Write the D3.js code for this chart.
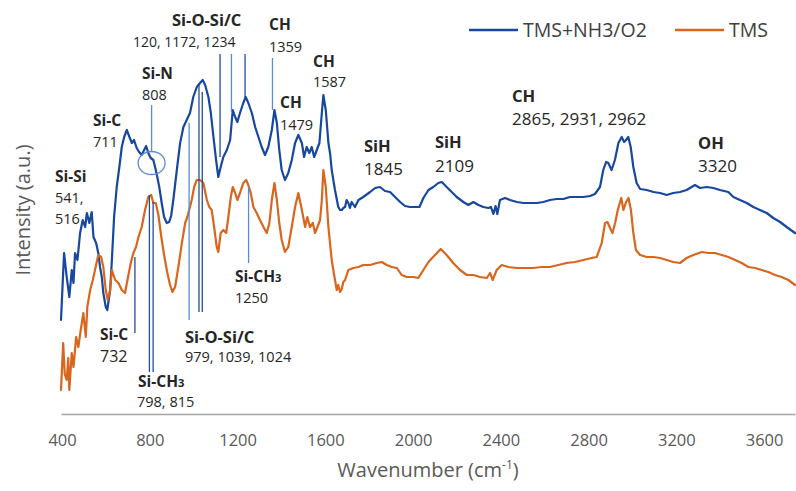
<!DOCTYPE html>
<html>
<head>
<meta charset="utf-8">
<script src="https://cdn.jsdelivr.net/npm/d3@7"></script>
<style>
  html, body { margin: 0; padding: 0; background: #ffffff; }
  svg { display: block; font-family: "Open Sans", "Noto Sans", sans-serif; }
</style>
</head>
<body>
<svg id="chart" width="796" height="491"></svg>
<script>
// FTIR spectra: wavenumber (cm-1) vs. intensity (a.u.)
const seriesNames = ["TMS+NH3/O2", "TMS"];
const xTickValues = [400, 800, 1200, 1600, 2000, 2400, 2800, 3200, 3600];

// TMS+NH3/O2 film: [wavenumber, intensity]
const treatedSpectrum = [
  [395, 23.5], [409, 40.25], [421, 34.25], [433, 29.25], [444, 36], [452, 32.75], [459, 40.25],
  [470, 38.5], [482, 45.25], [494, 48.5], [505, 46.75], [513, 50.25], [524, 47.75], [535, 50.5],
  [543, 44.25], [555, 42.75], [565, 40.25], [573, 36.75], [581, 34.25], [588, 30.25], [599, 26.75],
  [606, 26], [619, 31], [627, 38.5], [637, 49.25], [649, 56.75], [661, 61.75], [672, 66.75],
  [683, 69.25], [695, 71], [707, 69.25], [718, 67.75], [728, 68.5], [740, 66.5], [751, 65.5],
  [763, 64.75], [774, 66], [783, 67], [793, 65.25], [804, 64], [816, 63.5], [827, 61], [834, 59.25],
  [843, 56.75], [854, 52.75], [865, 49.25], [877, 47.75], [888, 48], [897, 49.5], [907, 53.5],
  [923, 61], [938, 67.75], [953, 71.75], [968, 73.5], [983, 75.25], [998, 79.25], [1014, 81.75],
  [1029, 82.75], [1041, 83.5], [1052, 82.25], [1067, 79.25], [1078, 75.25], [1090, 69.25],
  [1102, 63.5], [1112, 59.25], [1123, 61.75], [1135, 64.25], [1151, 66], [1166, 68.5], [1178, 76],
  [1189, 74.25], [1199, 73], [1211, 75.25], [1226, 77.75], [1237, 79.25], [1249, 77.75],
  [1265, 75.25], [1280, 71.75], [1295, 69.25], [1310, 66.75], [1325, 64.75], [1340, 66.75],
  [1356, 71], [1368, 76], [1379, 72.75], [1390, 66], [1401, 61], [1416, 58.5], [1431, 60.25],
  [1447, 63.5], [1462, 67.75], [1477, 69.75], [1493, 67.75], [1503, 64.25], [1515, 66.75],
  [1527, 65.25], [1538, 66.75], [1549, 64.25], [1561, 66], [1573, 67.75], [1584, 75.25],
  [1591, 79.75], [1602, 76], [1614, 67.75], [1622, 65], [1629, 61], [1644, 56], [1659, 51.75],
  [1667, 51], [1675, 51], [1682, 51.5], [1690, 51.75], [1697, 53.5], [1705, 52.75], [1712, 51.5],
  [1720, 53], [1735, 51.75], [1751, 53.5], [1773, 54.25], [1804, 55.5], [1827, 56.5], [1849, 56.75],
  [1872, 55.75], [1895, 55.5], [1918, 54.25], [1941, 53], [1963, 52], [1986, 51.75], [2009, 51.75],
  [2029, 51.75], [2047, 54], [2070, 56], [2092, 56.75], [2115, 57.75], [2131, 58], [2153, 56.75],
  [2176, 55.5], [2199, 54.25], [2229, 53], [2252, 52.25], [2275, 53], [2298, 52.25], [2320, 51.75],
  [2343, 51.5], [2355, 51.75], [2366, 50], [2376, 52], [2384, 50], [2396, 53.5], [2419, 54],
  [2442, 53.5], [2473, 53], [2503, 52.75], [2533, 52.75], [2564, 52.75], [2594, 53], [2624, 53.5],
  [2655, 53.75], [2685, 53.75], [2715, 54.25], [2746, 54.25], [2776, 54.25], [2807, 54.5],
  [2829, 55], [2852, 56.75], [2867, 61], [2880, 63], [2890, 62.75], [2905, 61], [2920, 63.5],
  [2936, 67.75], [2951, 69.25], [2962, 68], [2971, 68.5], [2981, 69.25], [2992, 66.75],
  [3004, 61.75], [3019, 57.75], [3035, 56.25], [3065, 56], [3096, 55.5], [3126, 55.25],
  [3156, 54.75], [3186, 55.25], [3217, 55.5], [3247, 56], [3285, 57.25], [3308, 56.5],
  [3339, 56.75], [3369, 56.5], [3399, 56], [3437, 55.5], [3460, 54.25], [3490, 53.5],
  [3521, 52.75], [3551, 51.75], [3581, 51], [3612, 50.25], [3642, 49], [3673, 48], [3703, 46.75],
  [3741, 45.25]
];

// TMS film: [wavenumber, intensity]
const tmsSpectrum = [
  [395, 6], [405, 17.75], [412, 10], [421, 8.5], [428, 14], [433, 6], [444, 15.25], [452, 11.75],
  [464, 19.25], [474, 16.75], [485, 21], [497, 25.25], [508, 19.25], [515, 26.75], [528, 31],
  [540, 33.5], [550, 36], [565, 39.75], [578, 39.25], [588, 36.75], [599, 31], [608, 28.5],
  [619, 31], [627, 36], [642, 33.5], [657, 32.75], [672, 31], [687, 30.25], [698, 33.5],
  [713, 37.75], [725, 40.25], [737, 41.75], [748, 44.25], [763, 46.75], [778, 51], [793, 54.25],
  [806, 54.75], [816, 52.75], [827, 52.75], [839, 49.75], [851, 44.75], [865, 39.75], [879, 35.5],
  [892, 32.25], [903, 30.5], [915, 31.75], [930, 36.75], [946, 42.75], [961, 47.75], [971, 49.25],
  [991, 53.5], [1002, 56.75], [1014, 58.5], [1029, 58.5], [1044, 57.75], [1060, 53.5],
  [1071, 51.75], [1082, 51], [1093, 46.75], [1105, 41.75], [1112, 40.5], [1123, 45.25],
  [1135, 46], [1148, 45.25], [1158, 49.25], [1169, 54.25], [1178, 56.75], [1189, 55.25],
  [1199, 53.5], [1211, 55.25], [1226, 57.75], [1239, 58.5], [1249, 57.25], [1260, 55.25],
  [1272, 51.75], [1287, 50.25], [1302, 48.5], [1318, 46.75], [1333, 45.25], [1345, 47.75],
  [1356, 53.5], [1368, 57.75], [1379, 53.5], [1390, 47.75], [1401, 43.5], [1416, 40.5],
  [1431, 41.75], [1447, 46.75], [1462, 51.75], [1477, 55.25], [1493, 51], [1508, 46.75],
  [1518, 49.25], [1530, 46.75], [1543, 47.75], [1553, 45.25], [1564, 46.75], [1576, 48.5],
  [1584, 53.5], [1591, 61], [1602, 56.75], [1614, 46.75], [1629, 38.5], [1644, 33.5], [1652, 31],
  [1659, 32.25], [1667, 30.5], [1675, 31.25], [1682, 33], [1690, 33.5], [1705, 36], [1728, 36.5],
  [1751, 36.75], [1773, 37.25], [1804, 37.25], [1834, 37.75], [1857, 38], [1880, 37.25],
  [1903, 36.75], [1926, 36.5], [1948, 34.75], [1971, 34.25], [2001, 34.25], [2024, 34], [2047, 36],
  [2070, 38], [2100, 39.75], [2126, 41.25], [2153, 39.75], [2183, 37.75], [2214, 36], [2245, 34.75],
  [2275, 34.75], [2305, 34.25], [2336, 34], [2351, 35.25], [2363, 33.5], [2381, 36], [2404, 37.25],
  [2434, 36.75], [2473, 36.5], [2510, 36.5], [2548, 36.5], [2586, 36.75], [2624, 36.75],
  [2662, 37.25], [2700, 37.75], [2738, 38], [2776, 38.5], [2814, 39], [2837, 39.25], [2860, 42.75],
  [2875, 47.75], [2886, 48], [2898, 46.5], [2909, 45.25], [2921, 47.75], [2933, 51], [2949, 54],
  [2959, 51], [2971, 53], [2982, 54], [2993, 51], [3004, 45.25], [3016, 41], [3035, 39.75],
  [3065, 39.25], [3096, 39.25], [3126, 39], [3156, 38.5], [3186, 38], [3217, 37.75], [3247, 39],
  [3277, 39.75], [3316, 40.5], [3346, 40.25], [3376, 40.25], [3407, 39.75], [3437, 39.25],
  [3468, 38.5], [3498, 37.75], [3528, 36.75], [3559, 36.5], [3589, 36], [3619, 35.5], [3650, 34.75],
  [3680, 34.25], [3711, 33.5], [3741, 32.25]
];

// Band assignments: group name and the wavenumbers written under it
const bandNames = ["Si-Si", "Si-C", "Si-N", "Si-O-Si/C", "CH", "CH", "CH", "SiH", "SiH", "CH", "OH",
                   "Si-C", "Si-CH3", "Si-O-Si/C", "Si-CH3"];
const bandValues = [["541,", "516"], ["711"], ["808"], ["120, 1172, 1234"], ["1359"], ["1479"],
                    ["1587"], ["1845"], ["2109"], ["2865, 2931, 2962"], ["3320"],
                    ["732"], ["798, 815"], ["979, 1039, 1024"], ["1250"]];

// Leader lines: wavenumber, upper and lower intensity ends
const leaderWave = [1120, 1172, 1234, 1359, 808, 732, 798, 815, 979, 1024, 1039, 1250];
const leaderTop =  [90, 90, 90, 89, 77.25, 39.25, 54.75, 53, 72.75, 82.75, 80.5, 57];
const leaderBot =  [64.25, 75.5, 78.5, 76, 65.5, 20.25, 10.5, 10.5, 23.5, 25.5, 25.5, 37.75];

const colors = ["#17479e", "#d9661c"];
const leaderDark = "#1f4e9a", leaderLight = "#5b8bd2";

const svg = d3.select("#chart");
const x = d3.scaleLinear().domain([395, 3741]).range([61, 795]);
const y = d3.scaleLinear().domain([0, 100]).range([414, 14]);

// x axis: plain grey baseline with labels only
const xAxis = svg.append("g")
  .attr("transform", `translate(0,${y(0)})`)
  .call(d3.axisBottom(x).tickValues(xTickValues).tickSize(0).tickPadding(20).tickFormat(d3.format("d")));
xAxis.select(".domain").attr("stroke", "#a3a3a3").attr("stroke-width", 1.6);
xAxis.selectAll("text").attr("font-family", "Open Sans").attr("font-size", 16.5).attr("fill", "#595959");

// axis titles
const xt = svg.append("text").attr("x", 428).attr("y", 477).attr("text-anchor", "middle")
  .attr("font-size", 20).attr("fill", "#595959");
xt.append("tspan").text("Wavenumber (cm");
xt.append("tspan").attr("font-size", 12).attr("dy", -8).text("-1");
xt.append("tspan").attr("dy", 8).text(")");

svg.append("text").attr("transform", "translate(22,210) rotate(-90)")
  .attr("text-anchor", "middle").attr("dominant-baseline", "central")
  .attr("font-size", 20).attr("fill", "#595959").text("Intensity (a.u.)");

// spectra
const line = d3.line().x(d => x(d[0])).y(d => y(d[1]));
[treatedSpectrum, tmsSpectrum].forEach((s, i) => {
  svg.append("path").datum(s).attr("d", line)
    .attr("fill", "none").attr("stroke", colors[i]).attr("stroke-width", 2.2)
    .attr("stroke-linejoin", "round").attr("stroke-linecap", "round");
});

// leader lines
const lightLeaders = new Set([1172, 1359, 808, 979, 1250]);
leaderWave.forEach((w, i) => {
  svg.append("line")
    .attr("x1", x(w)).attr("x2", x(w))
    .attr("y1", y(leaderTop[i])).attr("y2", y(leaderBot[i]))
    .attr("stroke", lightLeaders.has(w) ? leaderLight : leaderDark)
    .attr("stroke-width", 1.3);
});
// ring around the Si-N shoulder
svg.append("ellipse").attr("cx", x(808)).attr("cy", y(62.75))
  .attr("rx", 13.5).attr("ry", 11.5)
  .attr("fill", "none").attr("stroke", leaderLight).attr("stroke-width", 1.3);

// band labels: [name x, name baseline, value x, value baseline, name size, value size]
const labelLayout = [
  [55, 182, 55, 203, 15.5, 14.5], [93, 126, 93, 147, 15.5, 14.5], [142, 79, 142, 100, 15.5, 14.5],
  [172, 26, 133, 47, 16.5, 14], [269, 30, 269, 52, 15.5, 14.5], [280, 108, 280, 130, 15.5, 14.5],
  [313, 67, 313, 87, 15.5, 14.5], [364, 152, 364, 175, 16.5, 17], [435, 148, 435, 172, 16.5, 17],
  [512, 102, 512, 125, 16.5, 17], [698, 149, 698, 172, 16.5, 17],
  [100, 340, 100, 362, 15.5, 16], [138, 387, 137, 407, 15.5, 14.5], [185, 343, 185, 362, 16.5, 14.5],
  [235, 282, 235, 303, 15.5, 14.5]
];
bandNames.forEach((name, i) => {
  const [nx, nb, vx, vb, ns, vs] = labelLayout[i];
  const t = svg.append("text").attr("x", nx).attr("y", nb)
    .attr("font-size", ns).attr("font-weight", 700).attr("fill", "#262626");
  if (name.endsWith("CH3")) {
    t.append("tspan").text(name.slice(0, -1));
    t.append("tspan").attr("font-size", ns * 0.72).text("3");
  } else {
    t.text(name);
  }
  bandValues[i].forEach((v, j) => {
    svg.append("text").attr("x", vx).attr("y", vb + j * 21)
      .attr("font-size", vs).attr("fill", "#262626").text(v);
  });
});

// legend
const legendX = [469, 675];
seriesNames.forEach((n, i) => {
  svg.append("line").attr("x1", legendX[i]).attr("x2", legendX[i] + 49)
    .attr("y1", 30).attr("y2", 30).attr("stroke", colors[i]).attr("stroke-width", 2.5);
  svg.append("text").attr("x", legendX[i] + 54).attr("y", 36.5)
    .attr("font-size", 19.5).attr("fill", "#404040").text(n);
});
</script>
</body>
</html>
